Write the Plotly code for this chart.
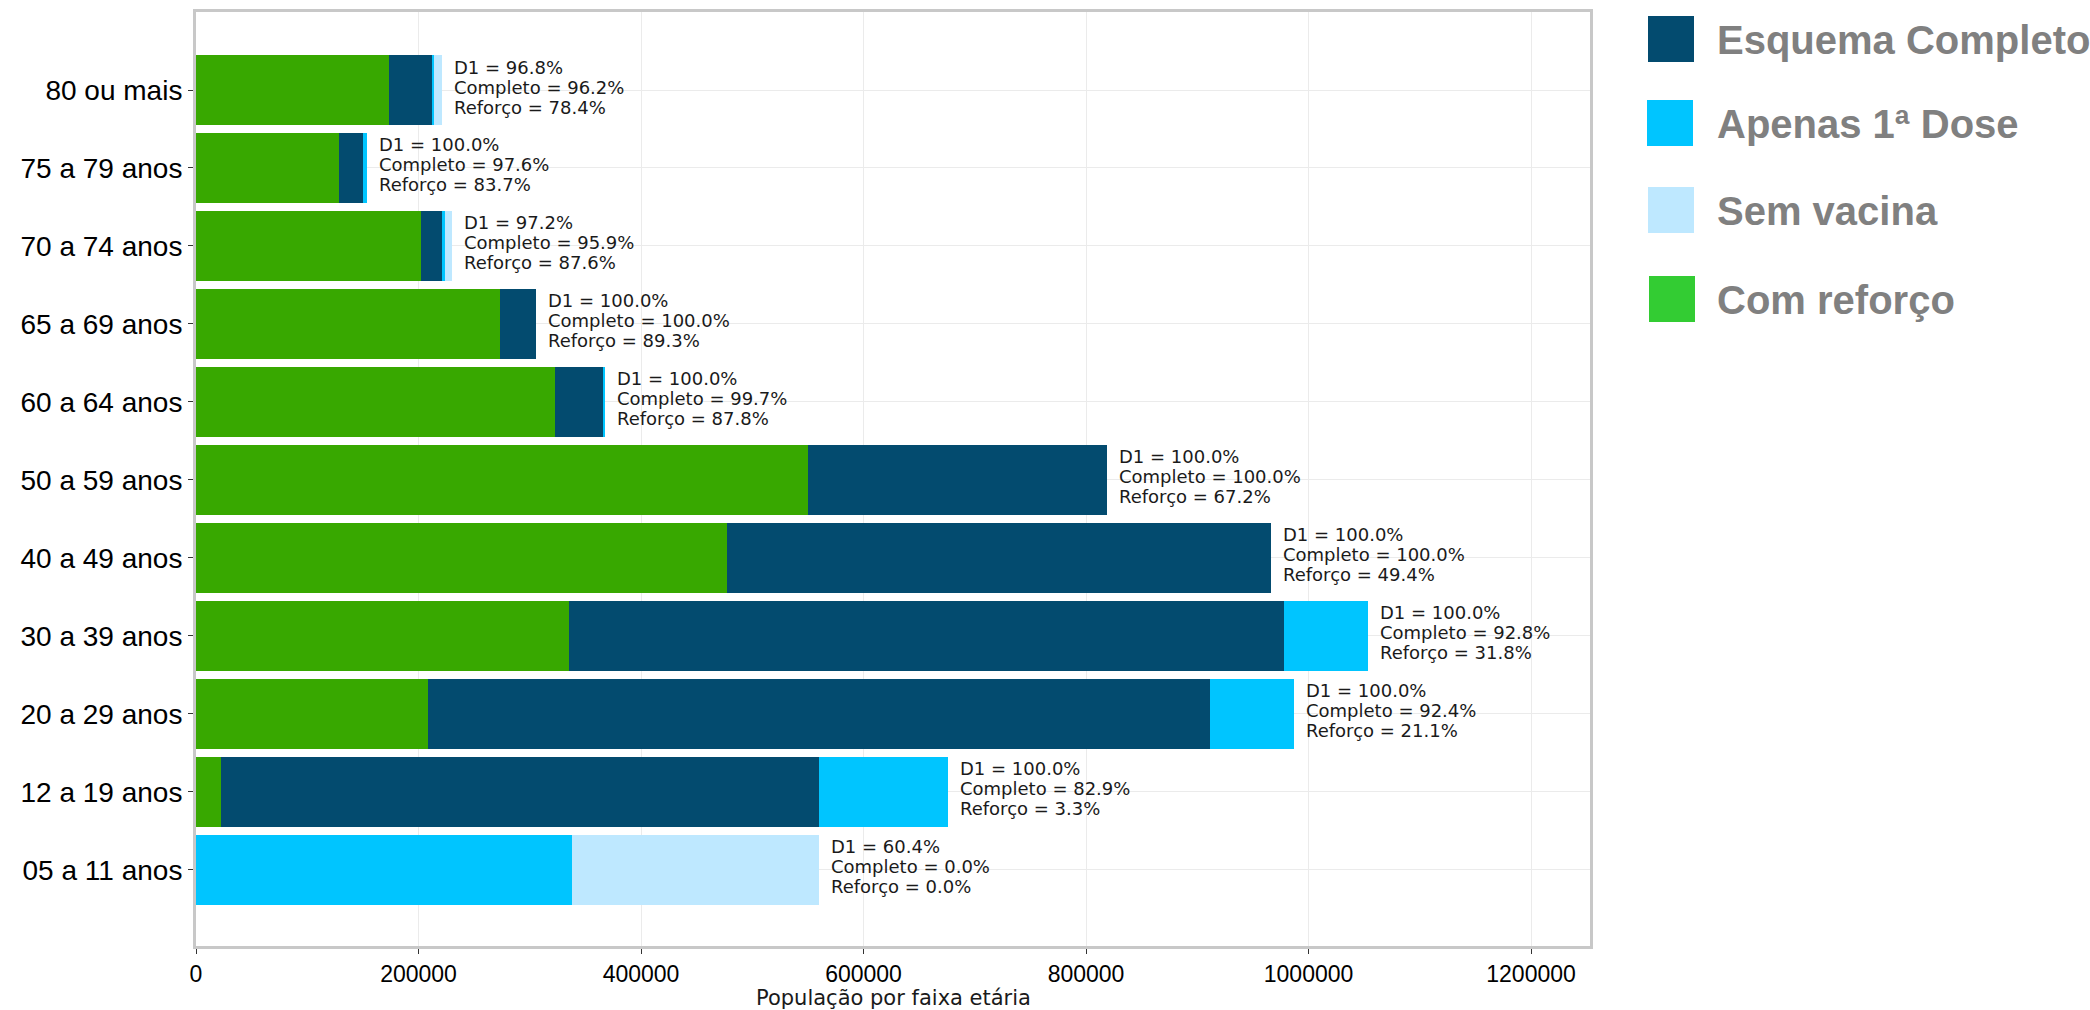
import plotly.graph_objects as go

# ---- data (top to bottom as shown) ----
categories = ["80 ou mais", "75 a 79 anos", "70 a 74 anos", "65 a 69 anos", "60 a 64 anos",
              "50 a 59 anos", "40 a 49 anos", "30 a 39 anos", "20 a 29 anos", "12 a 19 anos",
              "05 a 11 anos"]
com_reforco = [173100, 128400, 201800, 272900, 322900, 550400, 477200, 335000, 208200, 22300, 0]
esquema_completo = [39300, 21300, 19200, 32700, 43800, 268600, 488700, 642500, 703500, 537900, 0]
apenas_1a_dose = [1300, 3700, 3000, 0, 1100, 0, 0, 75800, 75000, 115500, 338400]
sem_vacina = [7100, 0, 6400, 0, 0, 0, 0, 0, 0, 0, 221900]
d1_pct = ["96.8", "100.0", "97.2", "100.0", "100.0", "100.0", "100.0", "100.0", "100.0", "100.0", "60.4"]
completo_pct = ["96.2", "97.6", "95.9", "100.0", "99.7", "100.0", "100.0", "92.8", "92.4", "82.9", "0.0"]
reforco_pct = ["78.4", "83.7", "87.6", "89.3", "87.8", "67.2", "49.4", "31.8", "21.1", "3.3", "0.0"]
x_ticks = [0, 200000, 400000, 600000, 800000, 1000000, 1200000]
x_title = "População por faixa etária"

legend_names = ["Esquema Completo", "Apenas 1ª Dose", "Sem vacina", "Com reforço"]
legend_colors = ["#034B6F", "#00C5FF", "#BEE8FF", "#33CC33"]

C_GREEN = "#38A800"
C_DARK = "#034B6F"
C_CYAN = "#00C5FF"
C_LIGHT = "#BEE8FF"

W, H = 2090, 1010
L = 196
T = 12
R = W - 1590
B = H - 946

fig = go.Figure()
for name, vals, col in [("Com reforço", com_reforco, C_GREEN),
                        ("Esquema Completo", esquema_completo, C_DARK),
                        ("Apenas 1ª Dose", apenas_1a_dose, C_CYAN),
                        ("Sem vacina", sem_vacina, C_LIGHT)]:
    fig.add_trace(go.Bar(y=categories, x=vals, orientation="h", name=name,
                         marker=dict(color=col, line=dict(width=0)), showlegend=False))

annotations = []
for i, cat in enumerate(categories):
    total = com_reforco[i] + esquema_completo[i] + apenas_1a_dose[i] + sem_vacina[i]
    lines = [f"D1 = {d1_pct[i]}%", f"Completo = {completo_pct[i]}%", f"Reforço = {reforco_pct[i]}%"]
    for k, txt in enumerate(lines):
        annotations.append(dict(x=total, y=cat, xref="x", yref="y", text=txt, showarrow=False,
                                xanchor="left", yanchor="middle", xshift=10, yshift=23 - 20 * k,
                                font=dict(family="DejaVu Sans", size=18, color="#1a1a1a")))

pw = W - L - R
ph = H - T - B
def px2paper_x(px):
    return (px - L) / pw
def px2paper_y(py):
    return (H - B - py) / ph

shapes = []
leg_tops = [16, 100, 187, 276]
leg_lefts = [1648, 1647, 1648, 1649]
for j, (nm, col) in enumerate(zip(legend_names, legend_colors)):
    y0 = leg_tops[j]
    x0 = leg_lefts[j]
    shapes.append(dict(type="rect", xref="paper", yref="paper",
                       x0=px2paper_x(x0), x1=px2paper_x(x0 + 46),
                       y0=px2paper_y(y0 + 46), y1=px2paper_y(y0),
                       fillcolor=col, line=dict(width=0), layer="above"))
    annotations.append(dict(x=px2paper_x(1715), y=px2paper_y(y0 + 24), xref="paper", yref="paper",
                            text=f"<b>{nm}</b>", showarrow=False, xanchor="left", yanchor="middle",
                            font=dict(family="Liberation Sans, Arial", size=40, color="#808080")))

# x-axis title as annotation (exact placement)
annotations.append(dict(x=0.5, y=px2paper_y(998), xref="paper", yref="paper", text=x_title,
                        showarrow=False, xanchor="center", yanchor="middle",
                        font=dict(family="DejaVu Sans", size=21, color="#1a1a1a")))

cat_order = list(reversed(categories))
fig.update_layout(
    width=W, height=H,
    margin=dict(l=L, r=R, t=T, b=B, pad=0, autoexpand=False),
    barmode="stack", bargap=0.103,
    plot_bgcolor="white", paper_bgcolor="white",
    annotations=annotations, shapes=shapes,
    xaxis=dict(range=[0, 1253000], tickvals=x_ticks, ticktext=[str(v) for v in x_ticks],
               automargin=False,
               showgrid=True, gridcolor="#EBEBEB", gridwidth=1, zeroline=False,
               showline=True, mirror=True, linecolor="#C8C8C8", linewidth=3,
               ticks="outside", ticklen=5, tickcolor="#333333", tickwidth=1,
               tickfont=dict(family="Liberation Sans, Arial", size=23, color="#000000")),
    yaxis=dict(categoryorder="array", categoryarray=cat_order, range=[-0.975, 11.0],
               automargin=False,
               showgrid=True, gridcolor="#EBEBEB", gridwidth=1, zeroline=False,
               showline=True, mirror=True, linecolor="#C8C8C8", linewidth=3,
               ticks="outside", ticklen=5, tickcolor="#333333", tickwidth=1,
               tickfont=dict(family="Liberation Sans, Arial", size=28, color="#000000")),
)

fig.write_html("out.html", config={"displayModeBar": False},
               post_script="document.body.style.margin='0';document.body.style.overflow='hidden';")
